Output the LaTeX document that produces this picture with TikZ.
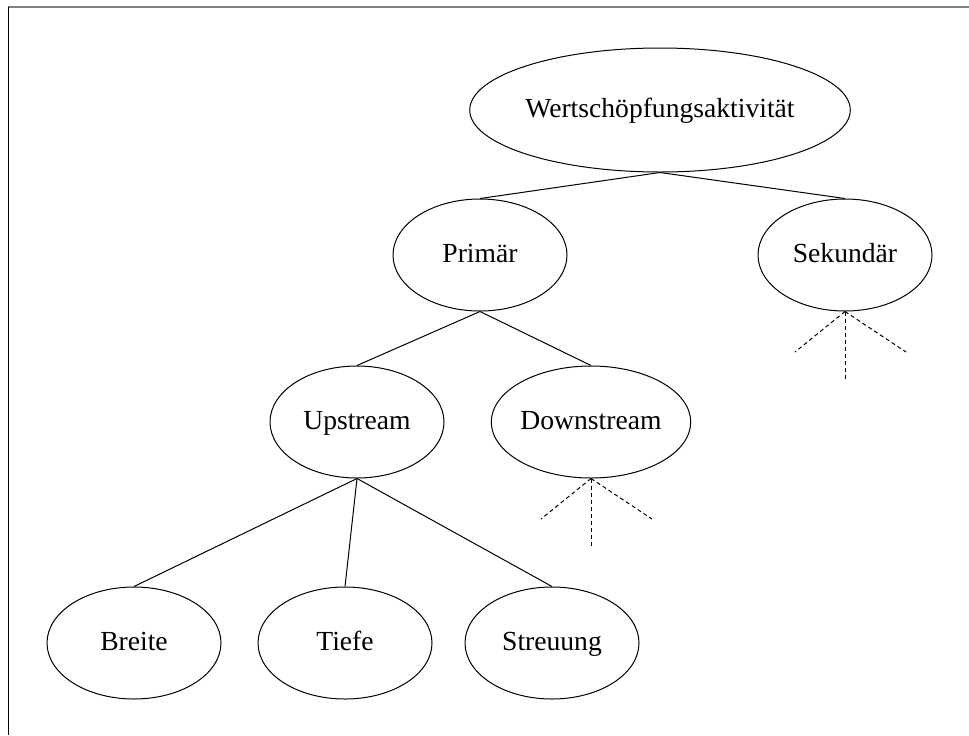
\documentclass[tikz,border=0pt]{standalone}
\usepackage{fontspec}
\setmainfont{Liberation Serif}
\usepackage{tikz}
\usetikzlibrary{shapes.geometric}
\tikzset{
  actnode/.style={ellipse,draw=black,line width=0.5pt,inner sep=0pt,
    minimum width=87pt,minimum height=56pt,text height=9.6pt,text depth=2.4pt,
    font=\fontsize{13.8}{16}\selectfont},
  rootnode/.style={actnode,minimum width=178pt,minimum height=62pt},
  treeedge/.style={black,line width=0.5pt},
  moreedge/.style={black,line width=0.5pt,dash pattern=on 2pt off 1.5pt},
  frameline/.style={line width=0.5pt},
}

\begin{document}
\begin{tikzpicture}[x=0.5pt,y=-0.5pt]
  \useasboundingbox (0,0) rectangle (969,735);
  \draw[frameline,gray,line width=1pt] (8,7) -- (969,7);
  \draw[frameline] (8,7) -- (8,735);
  \node[rootnode] (nW) at (660,110) {Wertschöpfungsaktivität};
  \node[actnode] (nP) at (480,255) {Primär};
  \node[actnode] (nS) at (845,255) {Sekundär};
  \node[actnode] (nU) at (357,422) {Upstream};
  \node[actnode] (nD) at (591,422) {Downstream};
  \node[actnode] (nB) at (134,643) {Breite};
  \node[actnode] (nT) at (345,643) {Tiefe};
  \node[actnode] (nSt) at (552,643) {Streuung};
  \coordinate (sL) at (795,352);
  \coordinate (sM) at (845,379);
  \coordinate (sR) at (906,352);
  \coordinate (dL) at (541,519);
  \coordinate (dM) at (591,546);
  \coordinate (dR) at (652,519);
  \draw[treeedge] (nW.south) -- (nP.north);
  \draw[treeedge] (nW.south) -- (nS.north);
  \draw[treeedge] (nP.south) -- (nU.north);
  \draw[treeedge] (nP.south) -- (nD.north);
  \draw[treeedge] (nU.south) -- (nB.north);
  \draw[treeedge] (nU.south) -- (nT.north);
  \draw[treeedge] (nU.south) -- (nSt.north);
  \draw[moreedge] (nS.south) -- (sL);
  \draw[moreedge] (nS.south) -- (sM);
  \draw[moreedge] (nS.south) -- (sR);
  \draw[moreedge] (nD.south) -- (dL);
  \draw[moreedge] (nD.south) -- (dM);
  \draw[moreedge] (nD.south) -- (dR);
\end{tikzpicture}
\end{document}
